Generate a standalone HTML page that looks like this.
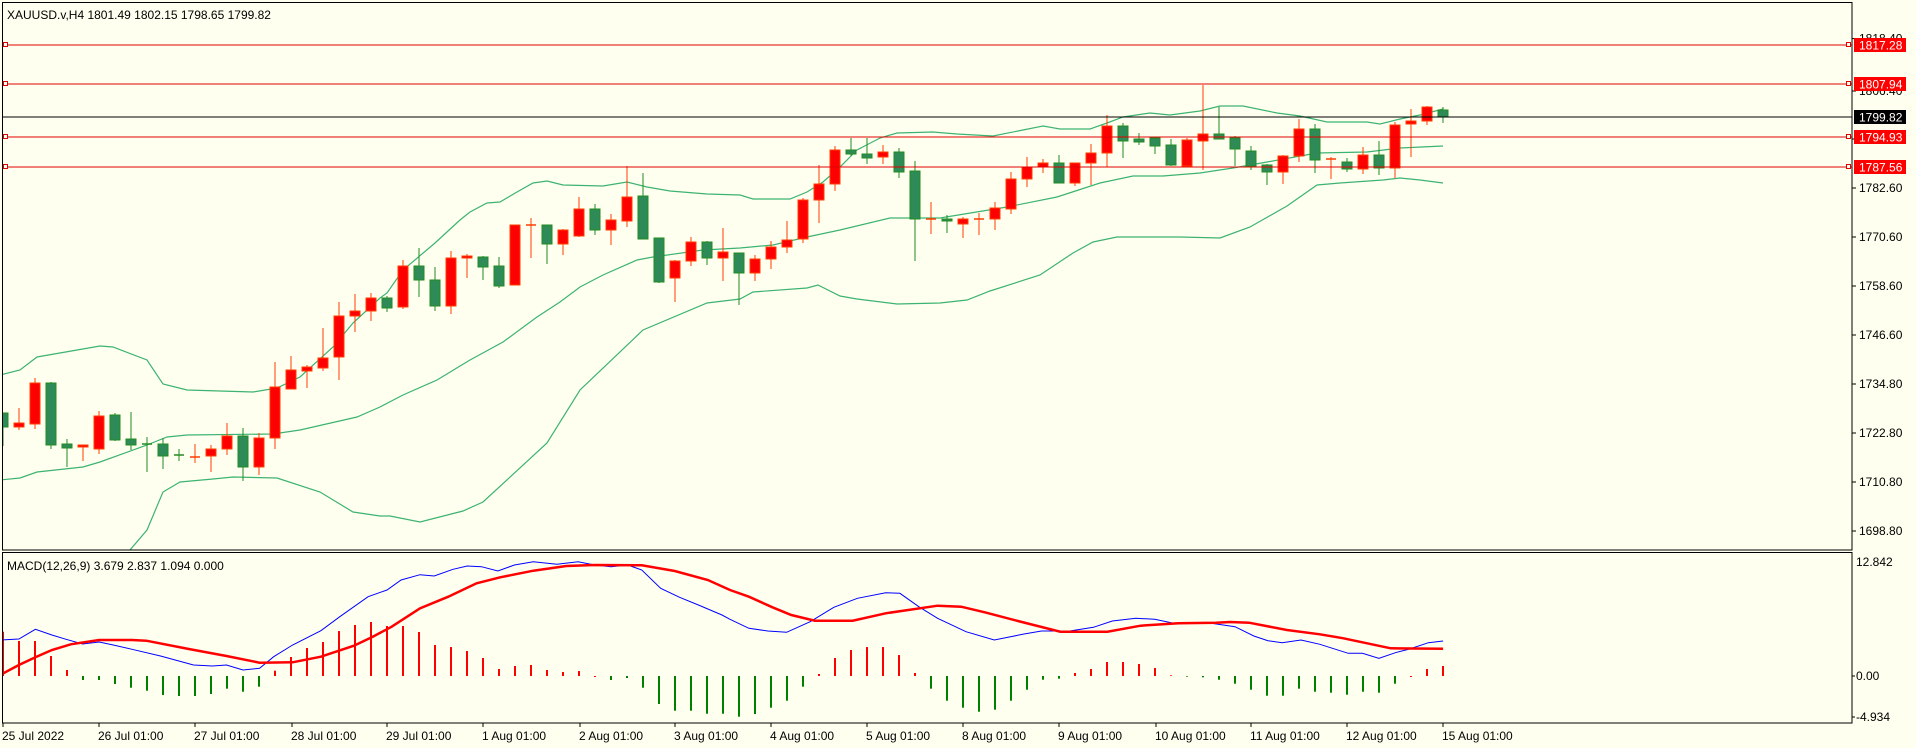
<!DOCTYPE html>
<html><head><meta charset="utf-8"><style>
html,body{margin:0;padding:0;background:#fffff0;}
svg{display:block;font-family:"Liberation Sans",sans-serif;font-size:12px;}
</style></head><body>
<svg id="s" width="1916" height="748" xmlns="http://www.w3.org/2000/svg">
<rect width="1916" height="748" fill="#fffff0"/>
<g id="g"></g>
<text x="7" y="19" fill="#000">XAUUSD.v,H4  1801.49 1802.15 1798.65 1799.82</text>
<text x="7" y="570" fill="#000">MACD(12,26,9) 3.679 2.837 1.094 0.000</text>
</svg>
<script>
var C=[[413,427,413,446,0],[423,427,408,430,1],[383,424,378,429,1],[383,445,382,449,0],[444,448,439,467,0],[445,447,445,461,1],[416,449,411,454,1],[415,440,413,441,0],[439,445,412,450,0],[444,445,437,472,0],[444,456,438,469,0],[455,456,449,461,0],[457,457,444,463,1],[449,456,445,472,1],[436,449,423,455,1],[436,467,428,481,0],[438,467,433,475,1],[387,438,362,449,1],[370,389,356,389,1],[367,371,365,388,1],[358,368,328,371,1],[316,357,302,380,1],[311,316,294,332,1],[298,311,293,321,1],
[298,308,296,312,0],[266,307,260,309,1],[266,280,248,297,0],[280,306,267,311,0],[258,306,251,314,1],[256,258,254,278,1],[257,267,256,280,0],[266,286,257,288,0],[225,285,225,285,1],[225,225,218,258,1],[225,244,225,264,0],[230,244,229,255,1],[209,236,197,237,1],[209,230,204,235,0],[220,230,214,245,1],[197,221,166,227,1],[196,239,173,239,0],[238,282,238,283,0],[261,278,260,302,1],[242,261,237,266,1],[242,258,241,265,0],[252,258,228,281,1],[253,273,253,305,0],
[259,273,255,281,1],[247,259,241,269,1],[240,247,221,253,1],[200,239,198,243,1],[184,200,165,223,1],[150,184,146,191,1],[150,154,138,156,0],[154,158,138,164,0],[152,157,145,164,1],[152,172,148,178,0],[171,219,161,261,0],[219,219,202,234,1],[219,221,215,233,0],[219,224,217,238,1],[219,219,213,235,1],[208,219,202,230,1],[179,209,172,214,1],[167,179,157,187,1],[163,167,159,173,1],[163,183,155,183,0],[163,183,163,186,1],[153,163,144,185,1],[126,153,115,167,1],
[126,141,123,158,0],[139,142,133,145,0],[138,146,138,154,0],[145,165,139,166,0],[140,166,138,167,1],[134,141,85,170,1],[134,139,107,139,0],[138,149,136,166,0],[151,166,146,170,0],[165,172,164,185,0],[156,172,155,184,1],[129,156,119,162,1],[129,160,124,173,0],[159,160,157,179,1],[162,169,158,172,0],[155,169,147,174,1],[155,168,141,175,0],[125,168,122,178,1],[121,124,109,157,1],[107,121,106,125,1],[110,117,107,123,0]];
var up=[[0,375],[20,370],[37,357],[100,346],[113,347],[147,360],[163,384],[187,390],[253,392],[277,388],[300,377],[333,347],[353,323],[380,298],[387,293],[403,270],[435,243],[460,220],[470,212],[487,203],[500,202],[517,192],[533,183],[547,181],[563,185],[603,186],[627,182],[647,187],[670,191],[707,194],[740,195],[753,199],[790,199],[807,192],[823,182],[840,167],[857,150],[880,138],[897,133],[933,132],[957,134],[993,136],[1023,130],[1043,126],[1060,129],[1090,129],[1107,123],[1123,117],[1150,113],[1170,115],[1200,111],[1220,106],[1243,106],[1277,113],[1300,116],[1327,122],[1367,122],[1380,124],[1400,119],[1420,115],[1443,109]];
var mid=[[0,480],[20,478],[37,472],[83,467],[100,462],[147,445],[167,437],[187,435],[273,434],[300,430],[357,417],[380,407],[403,395],[437,380],[470,360],[503,342],[537,317],[560,302],[580,287],[603,275],[637,260],[653,257],[703,250],[740,248],[773,245],[807,237],[840,230],[890,218],[940,218],[1007,207],[1057,197],[1100,183],[1133,176],[1163,176],[1200,173],[1233,168],[1267,162],[1317,153],[1367,152],[1400,148],[1443,146]];
var lo=[[115,580],[130,550],[147,530],[163,492],[180,482],[213,479],[233,477],[277,478],[320,492],[353,512],[380,516],[390,516],[420,522],[463,511],[483,502],[547,443],[580,390],[643,330],[707,303],[740,299],[753,292],[807,288],[818,285],[840,296],[857,299],[897,304],[940,303],[967,300],[990,291],[1040,275],[1073,253],[1093,242],[1117,237],[1180,237],[1220,238],[1250,227],[1287,206],[1317,185],[1340,183],[1383,180],[1400,178],[1420,180],[1443,183]];
var H=[245,273,273,318,360,390,390,402,413,422,435,438,438,432,416,425,410,362,321,294,276,243,225,216,228,228,246,285,291,303,324,357,348,345,360,366,363,381,390,384,413,462,482,482,491,491,500,492,473,452,410,372,324,300,291,291,315,369,416,452,473,485,479,452,419,389,386,369,357,336,336,342,354,376,380,382,389,401,419,437,437,416,425,428,434,425,428,401,381,357,348];
var HR=[1,1,1,1,1,0,0,0,0,0,0,0,0,0,0,0,0,1,1,1,1,1,1,1,1,1,1,1,1,1,1,1,1,1,1,1,1,1,0,0,0,0,0,0,0,0,0,0,0,0,0,1,1,1,1,1,1,1,0,0,0,0,0,0,0,0,0,1,1,1,1,1,1,1,0,0,0,0,0,0,0,0,0,0,0,0,0,0,1,1,1];
function z9(a){return a.map(function(p){return [p[0]/2.119,550+p[1]/3];});}
function z10(a){return a.map(function(p){return [730+p[0]/2.119,550+p[1]/3];});}
var blue=z9([[0,270],[40,267],[75,238],[110,255],[140,268],[175,282],[210,276],[240,285],[280,298],[340,318],[410,345],[450,348],[480,345],[515,360],[550,355],[580,320],[620,285],[680,242],[720,200],[780,140],[820,120],[850,90],[890,74],[920,78],[960,58],[990,48],[1020,50],[1055,63],[1090,45],[1130,35],[1180,43],[1225,35],[1260,45],[1295,50],[1330,45],[1360,60],[1400,115],[1440,142],[1480,165],[1530,195]]).concat(z10([[0,208],[40,235],[80,243],[120,247],[170,215],[220,172],[270,145],[330,128],[360,130],[400,170],[440,205],[500,245],[560,270],[620,253],[660,243],[720,243],[770,232],[810,213],[860,205],[900,208],[940,220],[1020,220],[1070,230],[1110,258],[1140,272],[1170,278],[1210,270],[1250,283],[1310,310],[1340,310],[1375,325],[1410,308],[1440,297],[1480,278],[1511,273]]));
var red=z9([[0,375],[40,345],[75,322],[110,300],[150,283],[210,270],[280,270],[310,272],[400,297],[480,318],[550,338],[620,337],[680,320],[750,287],[790,260],[830,230],[890,175],[950,140],[1010,100],[1060,82],[1130,62],[1200,48],[1260,45],[1360,46],[1430,63],[1500,90]]).concat(z10([[0,120],[40,140],[90,172],[130,195],[180,212],[260,212],[330,190],[440,167],[490,170],[540,187],[610,213],[700,245],[800,245],[870,227],[950,220],[1030,218],[1060,216],[1100,218],[1180,240],[1250,253],[1300,265],[1400,295],[1511,296]]));
var o='';
function pl(a,c,w){return '<polyline fill="none" stroke="'+c+'" stroke-width="'+w+'" points="'+a.map(function(p){return p[0].toFixed(1)+','+p[1].toFixed(1)}).join(' ')+'"/>';}
// axis labels main
var ticks=[[1818.40,38.6],[1806.40,91],[1794.60,139],[1782.60,188],[1770.60,237],[1758.60,286],[1746.60,335],[1734.80,384],[1722.80,433],[1710.80,482],[1698.80,531]];
ticks.forEach(function(t){o+='<line x1="1852" y1="'+t[1]+'" x2="1856" y2="'+t[1]+'" stroke="#000"/><text x="1859" y="'+(t[1]+4)+'">'+t[0].toFixed(2)+'</text>';});
o+='<defs><clipPath id="cp"><rect x="3" y="3" width="1849" height="547"/></clipPath><clipPath id="cm"><rect x="3" y="554" width="1849" height="169"/></clipPath></defs>';
o+='<g clip-path="url(#cp)">';
o+=pl(up,'#3cb371',1.2)+pl(mid,'#3cb371',1.2)+pl(lo,'#3cb371',1.2);
C.forEach(function(c,i){var x=3+16*i,col=c[4]?'#ff3c00':'#228b22',f=c[4]?'#ff0000':'#2e8b57';
o+='<line x1="'+x+'" y1="'+c[2]+'" x2="'+x+'" y2="'+c[3]+'" stroke="'+col+'" stroke-width="1"/>';
var h=Math.max(c[1]-c[0],1);
if(c[1]-c[0]<2){o+='<line x1="'+(x-5)+'" y1="'+c[0]+'" x2="'+(x+5)+'" y2="'+c[0]+'" stroke="'+col+'" stroke-width="1.5"/>';}
else o+='<rect x="'+(x-5)+'" y="'+c[0]+'" width="10" height="'+h+'" fill="'+f+'" stroke="'+col+'" stroke-width="1"/>';});
o+='</g>';
[[45,'1817.28'],[84,'1807.94'],[137,'1794.93'],[167,'1787.56']].forEach(function(l){var y=l[0];
o+='<line x1="3" y1="'+y+'" x2="1852" y2="'+y+'" stroke="#e00000" stroke-width="1"/><rect x="3.5" y="'+(y-2.5)+'" width="4" height="4" fill="#fffff0" stroke="#e00000"/><rect x="1846.5" y="'+(y-2.5)+'" width="4" height="4" fill="#fffff0" stroke="#e00000"/>';
o+='<rect x="1854" y="'+(y-7)+'" width="52" height="14" fill="#ff0000"/><text x="1859" y="'+(y+4.5)+'" fill="#fff">'+l[1]+'</text>';});
o+='<line x1="3" y1="117" x2="1852" y2="117" stroke="#000" stroke-width="1"/><rect x="1854" y="110" width="52" height="14" fill="#000"/><text x="1859" y="121.5" fill="#fff">1799.82</text>';
// MACD
o+='<g clip-path="url(#cm)">';
H.forEach(function(h,i){var x=3+16*i,y=550+h/3;o+='<line x1="'+x+'" y1="676" x2="'+x+'" y2="'+y.toFixed(1)+'" stroke="'+(HR[i]?'#ff0000':'#008000')+'" stroke-width="2"/>';});
o+=pl(blue,'#0000ff',1)+pl(red,'#ff0000',2.5);
o+='</g>';
o+='<text x="1856" y="566">12.842</text><text x="1856" y="680">0.00</text><text x="1856" y="721">-4.934</text>';
o+='<line x1="1852" y1="676" x2="1855" y2="676" stroke="#000"/><line x1="1852" y1="717" x2="1855" y2="717" stroke="#000"/>';
// frames
o+='<rect x="2.5" y="2.5" width="1849.5" height="547.5" fill="none" stroke="#000"/>';
o+='<rect x="2.5" y="552.5" width="1849.5" height="170.5" fill="none" stroke="#000"/>';
var d=[[3,'25 Jul 2022'],[99,'26 Jul 01:00'],[195,'27 Jul 01:00'],[292,'28 Jul 01:00'],[387,'29 Jul 01:00'],[483,'1 Aug 01:00'],[580,'2 Aug 01:00'],[675,'3 Aug 01:00'],[771,'4 Aug 01:00'],[867,'5 Aug 01:00'],[963,'8 Aug 01:00'],[1059,'9 Aug 01:00'],[1156,'10 Aug 01:00'],[1251,'11 Aug 01:00'],[1347,'12 Aug 01:00'],[1443,'15 Aug 01:00']];
d.forEach(function(t){o+='<line x1="'+t[0]+'" y1="723" x2="'+t[0]+'" y2="727" stroke="#000"/><text x="'+(t[0]-1)+'" y="740">'+t[1]+'</text>';});
document.getElementById('g').innerHTML=o;
</script>
</body></html>
